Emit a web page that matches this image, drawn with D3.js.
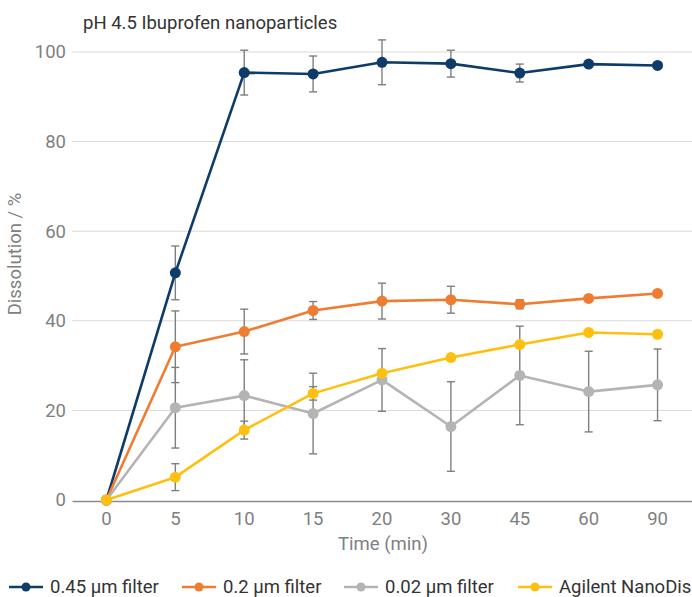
<!DOCTYPE html>
<html>
<head>
<meta charset="utf-8" />
<title>pH 4.5 Ibuprofen nanoparticles</title>
<style>
html, body {
    margin: 0;
    padding: 0;
    background: #fff;
}
svg text {
    font-family: Roboto, "Noto Sans", sans-serif;
}
</style>
</head>
<body>
<div id="chart"></div>
<script src="https://cdnjs.cloudflare.com/ajax/libs/d3/7.8.5/d3.min.js"></script>
<script>
// time points (categorical axis)
var times = ["0", "5", "10", "15", "20", "30", "45", "60", "90"]
var yTicks = [0, 20, 40, 60, 80, 100]

var names = ["0.45 \u00b5m filter", "0.2 \u00b5m filter", "0.02 \u00b5m filter", "Agilent NanoDis"]
var colors = ["#0e3c69", "#ee7d31", "#b4b4b4", "#fec010"]

var filter045 = [0, 50.7, 95.4, 95.1, 97.7, 97.4, 95.3, 97.3, 97.0]
var filter045Err = [0, 6, 5, 4, 5, 3, 2, 0, 0]
var filter02 = [0, 34.2, 37.6, 42.3, 44.4, 44.7, 43.7, 45.0, 46.1]
var filter02Err = [0, 8, 5, 2, 4, 3, 1, 0, 0]
var filter002 = [0, 20.6, 23.3, 19.3, 26.8, 16.4, 27.8, 24.2, 25.7]
var filter002Err = [0, 9, 8, 9, 7, 10, 11, 9, 8]
var nanoDis = [0, 5.1, 15.6, 23.8, 28.3, 31.8, 34.7, 37.4, 37.0]
var nanoDisErr = [0, 3, 2, 1.5, 0, 0, 0, 0, 0]

var values = [filter045, filter02, filter002, nanoDis]
var errors = [filter045Err, filter02Err, filter002Err, nanoDisErr]

var width = 692, height = 597
var fs = 18.5
var svg = d3.select("#chart").append("svg")
    .attr("width", width).attr("height", height)

var x = d3.scaleBand().domain(times).range([72, 692])
var y = d3.scaleLinear().domain([0, 100]).range([500, 52])
var cx = function(t) { return x(t) + x.bandwidth() / 2 }

// title
svg.append("text").attr("x", 83).attr("y", 29)
    .attr("font-size", fs).attr("fill", "#333")
    .text("pH 4.5 Ibuprofen nanoparticles")

// gridlines
svg.append("g").selectAll("line").data(yTicks.filter(function(d) { return d > 0 }))
    .enter().append("line")
    .attr("x1", 72).attr("x2", 692)
    .attr("y1", function(d) { return y(d) }).attr("y2", function(d) { return y(d) })
    .attr("stroke", "#d9d9d9").attr("stroke-width", 1)

// y axis labels
svg.append("g").selectAll("text").data(yTicks).enter().append("text")
    .attr("x", 66).attr("y", function(d) { return y(d) })
    .attr("dy", "0.35em").attr("text-anchor", "end")
    .attr("font-size", fs).attr("fill", "#7f7f7f")
    .text(function(d) { return d })

// x axis
var xAxis = svg.append("g").attr("transform", "translate(0,501)")
    .call(d3.axisBottom(x).tickSize(0).tickPadding(11))
xAxis.select(".domain").attr("stroke", "#8c8c8c").attr("stroke-width", 1.5)
xAxis.selectAll("text").attr("font-size", fs).attr("fill", "#7f7f7f")
    .attr("font-family", "Roboto, sans-serif")

svg.append("text").attr("x", 383).attr("y", 550)
    .attr("text-anchor", "middle").attr("font-size", fs).attr("fill", "#7f7f7f")
    .text("Time (min)")

svg.append("text")
    .attr("transform", "translate(21,254) rotate(-90)")
    .attr("text-anchor", "middle").attr("font-size", fs).attr("fill", "#7f7f7f")
    .text("Dissolution / %")

var line = d3.line()
    .x(function(d, i) { return cx(times[i]) })
    .y(function(d) { return y(d) })

values.forEach(function(series, s) {
    var g = svg.append("g")
    var err = errors[s]

    // error bars
    series.forEach(function(v, i) {
        if (!err[i]) return
        var px = cx(times[i])
        var bar = g.append("g").attr("stroke", "#7f7f7f").attr("stroke-width", 1.4)
        bar.append("line").attr("x1", px).attr("x2", px)
            .attr("y1", y(v + err[i])).attr("y2", y(v - err[i]))
        bar.append("line").attr("x1", px - 4).attr("x2", px + 4)
            .attr("y1", y(v + err[i])).attr("y2", y(v + err[i]))
        bar.append("line").attr("x1", px - 4).attr("x2", px + 4)
            .attr("y1", y(v - err[i])).attr("y2", y(v - err[i]))
    })

    g.append("path").datum(series)
        .attr("d", line).attr("fill", "none")
        .attr("stroke", colors[s]).attr("stroke-width", 2.6)
        .attr("stroke-linejoin", "round")

    g.selectAll("circle").data(series).enter().append("circle")
        .attr("cx", function(d, i) { return cx(times[i]) })
        .attr("cy", function(d) { return y(d) })
        .attr("r", 5.5).attr("fill", colors[s])
})

// legend
var legX = [9, 182, 344, 518]
var leg = svg.append("g").selectAll("g").data(names).enter().append("g")
    .attr("transform", function(d, i) { return "translate(" + legX[i] + ",587)" })
leg.append("line").attr("x1", 0).attr("x2", 34)
    .attr("stroke", function(d, i) { return colors[i] }).attr("stroke-width", 2.6)
leg.append("circle").attr("cx", 17).attr("r", 4.5)
    .attr("fill", function(d, i) { return colors[i] })
leg.append("text").attr("x", 41).attr("dy", "0.35em")
    .attr("font-size", fs).attr("fill", "#333")
    .text(function(d) { return d })
</script>
</body>
</html>
